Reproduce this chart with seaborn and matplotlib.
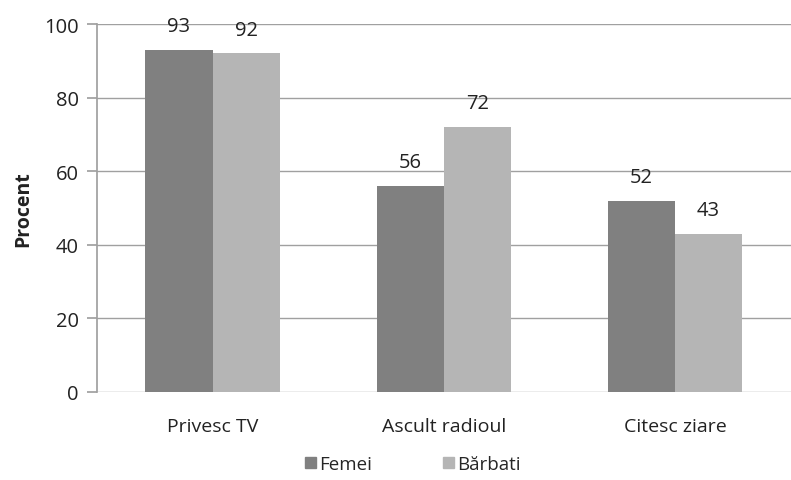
import seaborn as sns
import matplotlib.pyplot as plt
import pandas as pd

categories = ['Privesc TV', 'Ascult radioul', 'Citesc ziare']
femei = [93, 56, 52]
barbati = [92, 72, 43]
series = ['Femei', 'Bărbati']
colors = ['#808080', '#b5b5b5']

df = pd.DataFrame({
    'categorie': categories * 2,
    'procent': femei + barbati,
    'grup': [series[0]] * 3 + [series[1]] * 3,
})

sns.set_theme(style='white')
plt.rcParams['font.family'] = ['Open Sans', 'DejaVu Sans']

fig = plt.figure(figsize=(7.91, 4.81), dpi=100)
ax = fig.add_axes([0.1225, 0.183, 0.877, 0.765])

sns.barplot(data=df, x='categorie', y='procent', hue='grup', hue_order=series,
            palette=colors, width=0.58, saturation=1, linewidth=0, ax=ax, legend=False)

for cont in ax.containers:
    ax.bar_label(cont, padding=10, fontsize=14.5, color='#222222')

ax.set_ylim(0, 100)
ax.set_yticks(range(0, 101, 20))
ax.yaxis.grid(True, color='#a0a0a0', linewidth=1)
ax.set_axisbelow(True)
for s in ['top', 'right', 'bottom']:
    ax.spines[s].set_visible(False)
ax.spines['left'].set_color('#a0a0a0')
ax.tick_params(axis='y', left=True, length=7, color='#a0a0a0', labelsize=14.5,
               labelcolor='#222222', pad=6)
ax.tick_params(axis='x', bottom=False, labelsize=14, labelcolor='#222222', pad=12)
ax.set_xlabel('')
ax.set_ylabel('Procent', fontsize=14, fontweight='bold', color='#222222', labelpad=8)

handles = [plt.Rectangle((0, 0), 1, 1, color=c) for c in colors]
fig.legend(handles, series, loc='center', bbox_to_anchor=(0.522, 0.033), ncol=2,
           frameon=False, fontsize=13.5, handlelength=0.6, handleheight=0.6,
           handletextpad=0.15, columnspacing=3.8)

fig.savefig('out.png', dpi=100)
